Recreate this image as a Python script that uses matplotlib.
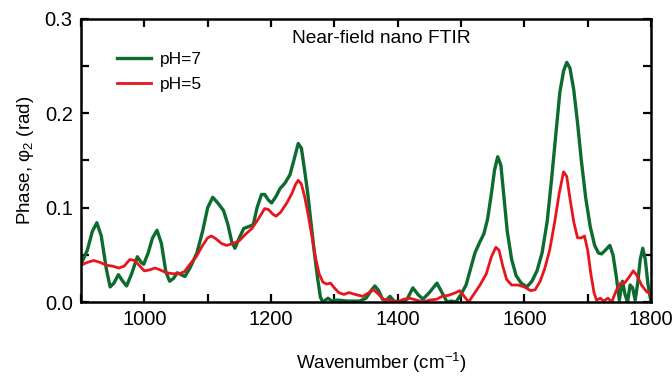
import matplotlib
matplotlib.use("Agg")
import matplotlib.pyplot as plt
from matplotlib.ticker import MultipleLocator
from matplotlib.transforms import ScaledTranslation

plt.rcParams['font.family'] = ['Liberation Sans', 'DejaVu Sans']
plt.rcParams['mathtext.fontset'] = 'custom'
plt.rcParams['mathtext.rm'] = 'Liberation Sans'
plt.rcParams['mathtext.it'] = 'Liberation Sans:italic'

# pH=7 spectrum
wn_ph7 = [900, 910, 918, 925, 932, 940, 946, 952, 959, 966, 972, 980, 989, 995, 999,
          1006, 1013, 1020, 1027, 1034, 1040, 1046, 1052, 1058, 1064, 1072, 1083, 1092,
          1100, 1108, 1116, 1125, 1132, 1138, 1143, 1150, 1157, 1165, 1172, 1178, 1185,
          1190, 1196, 1201, 1208, 1214, 1222, 1230, 1236, 1243, 1248, 1253, 1258, 1263,
          1268, 1273, 1278, 1282, 1290, 1296, 1305, 1320, 1340, 1350, 1358, 1364, 1370,
          1376, 1382, 1388, 1394, 1405, 1415, 1424, 1432, 1440, 1450, 1462, 1470, 1478,
          1485, 1492, 1500, 1508, 1515, 1522, 1530, 1536, 1542, 1548, 1553, 1558, 1563,
          1568, 1573, 1580, 1587, 1595, 1604, 1612, 1620, 1628, 1636, 1643, 1650, 1656,
          1662, 1667, 1672, 1678, 1684, 1690, 1697, 1704, 1711, 1717, 1722, 1728, 1735,
          1740, 1745, 1750, 1755, 1759, 1763, 1767, 1771, 1775, 1779, 1783, 1787, 1791,
          1795, 1800]
phase_ph7 = [0.040, 0.055, 0.075, 0.084, 0.070, 0.035, 0.016, 0.020, 0.029, 0.022, 0.017,
             0.030, 0.048, 0.042, 0.040, 0.052, 0.068, 0.076, 0.062, 0.032, 0.022, 0.025,
             0.031, 0.029, 0.027, 0.036, 0.052, 0.075, 0.100, 0.111, 0.105, 0.097, 0.082,
             0.064, 0.057, 0.068, 0.078, 0.080, 0.082, 0.100, 0.114, 0.114, 0.108, 0.105,
             0.112, 0.120, 0.126, 0.135, 0.150, 0.168, 0.163, 0.140, 0.115, 0.085, 0.055,
             0.028, 0.005, 0.000, 0.004, 0.001, 0.002, 0.001, 0.001, 0.004, 0.012, 0.017,
             0.012, 0.003, 0.002, 0.006, 0.001, 0.000, 0.003, 0.015, 0.008, 0.003, 0.010,
             0.020, 0.010, 0.000, 0.001, 0.000, 0.008, 0.018, 0.035, 0.052, 0.064, 0.072,
             0.088, 0.115, 0.140, 0.154, 0.145, 0.110, 0.075, 0.045, 0.028, 0.020, 0.016,
             0.022, 0.033, 0.052, 0.085, 0.130, 0.180, 0.222, 0.245, 0.254, 0.248, 0.225,
             0.190, 0.150, 0.110, 0.080, 0.060, 0.052, 0.051, 0.055, 0.060, 0.050, 0.028,
             0.002, 0.022, 0.008, 0.000, 0.018, 0.015, 0.002, 0.020, 0.045, 0.057, 0.045,
             0.020, 0.000]

# pH=5 spectrum
wn_ph5 = [900, 910, 920, 930, 940, 950, 960, 968, 977, 985, 993, 1000, 1008, 1017, 1025,
          1035, 1045, 1055, 1063, 1072, 1082, 1092, 1100, 1106, 1113, 1122, 1130, 1140,
          1150, 1160, 1170, 1180, 1190, 1196, 1203, 1208, 1215, 1225, 1233, 1239, 1243,
          1248, 1253, 1258, 1264, 1270, 1276, 1282, 1288, 1294, 1300, 1307, 1315, 1323,
          1333, 1345, 1355, 1362, 1370, 1377, 1388, 1399, 1410, 1419, 1430, 1440, 1450,
          1462, 1470, 1480, 1492, 1498, 1505, 1512, 1520, 1530, 1540, 1548, 1555, 1560,
          1566, 1572, 1580, 1590, 1600, 1610, 1617, 1625, 1632, 1640, 1648, 1655, 1662,
          1667, 1672, 1678, 1684, 1690, 1695, 1700, 1705, 1710, 1714, 1720, 1725, 1732,
          1738, 1745, 1752, 1758, 1765, 1772, 1778, 1785, 1793, 1800]
phase_ph5 = [0.039, 0.042, 0.044, 0.042, 0.039, 0.038, 0.036, 0.038, 0.045, 0.044, 0.038,
             0.033, 0.034, 0.036, 0.034, 0.031, 0.030, 0.030, 0.032, 0.040, 0.048, 0.060,
             0.068, 0.070, 0.067, 0.062, 0.060, 0.062, 0.065, 0.072, 0.078, 0.088, 0.099,
             0.098, 0.093, 0.091, 0.095, 0.105, 0.115, 0.125, 0.129, 0.125, 0.112, 0.095,
             0.072, 0.048, 0.030, 0.021, 0.019, 0.020, 0.015, 0.010, 0.008, 0.010, 0.008,
             0.006, 0.010, 0.013, 0.008, 0.003, 0.002, 0.000, 0.003, 0.004, 0.002, 0.000,
             0.002, 0.003, 0.006, 0.007, 0.010, 0.012, 0.006, 0.000, 0.008, 0.018, 0.030,
             0.048, 0.058, 0.055, 0.038, 0.024, 0.018, 0.018, 0.016, 0.012, 0.013, 0.022,
             0.035, 0.055, 0.085, 0.115, 0.138, 0.133, 0.110, 0.085, 0.068, 0.068, 0.070,
             0.055, 0.030, 0.010, 0.002, 0.004, 0.001, 0.004, 0.000, 0.012, 0.020, 0.020,
             0.026, 0.033, 0.028, 0.018, 0.011, 0.008]

green = '#0c6b2f'
red = '#e8161c'

fig = plt.figure(figsize=(6.72, 3.76), dpi=100)
ax = fig.add_axes([81 / 672, 74 / 376, 570 / 672, 283 / 376])

ax.plot(wn_ph7, phase_ph7, color=green, lw=2.4, label='pH=7')
ax.plot(wn_ph5, phase_ph5, color=red, lw=2.0, label='pH=5')

ax.set_xlim(900, 1800)
ax.set_ylim(0, 0.3)
ax.xaxis.set_major_locator(MultipleLocator(200))
ax.xaxis.set_minor_locator(MultipleLocator(100))
ax.yaxis.set_major_locator(MultipleLocator(0.1))
ax.yaxis.set_minor_locator(MultipleLocator(0.05))
ax.yaxis.set_major_formatter(plt.FuncFormatter(lambda v, p: f'{v:.1f}'))

for s in ax.spines.values():
    s.set_linewidth(1.8)
ax.tick_params(which='both', direction='in', top=True, right=True, width=1.6,
               labelsize=14.5, pad=6, length=6)

# nudge the last x label (1800) left so it stays inside the figure
fig.canvas.draw()
last = ax.get_xticklabels()[-1]
last.set_transform(last.get_transform() + ScaledTranslation(-4 / 100, 0, fig.dpi_scale_trans))

ax.set_ylabel('Phase, \u03c6$_2$ (rad)', fontsize=13.5, labelpad=6)
ax.set_xlabel('Wavenumber (cm$^{-1}$)', fontsize=13.5, va='center')
ax.xaxis.set_label_coords((381 - 81) / 570, -0.215)

ax.text(0.37, 0.93, 'Near-field nano FTIR', transform=ax.transAxes,
        fontsize=13.8, va='center', ha='left')

ax.legend(loc='upper left', bbox_to_anchor=(0.035, 0.94), frameon=False,
          fontsize=12.5, handlelength=2.0, handletextpad=0.5, labelspacing=0.6)

fig.savefig('out.png', dpi=100)
